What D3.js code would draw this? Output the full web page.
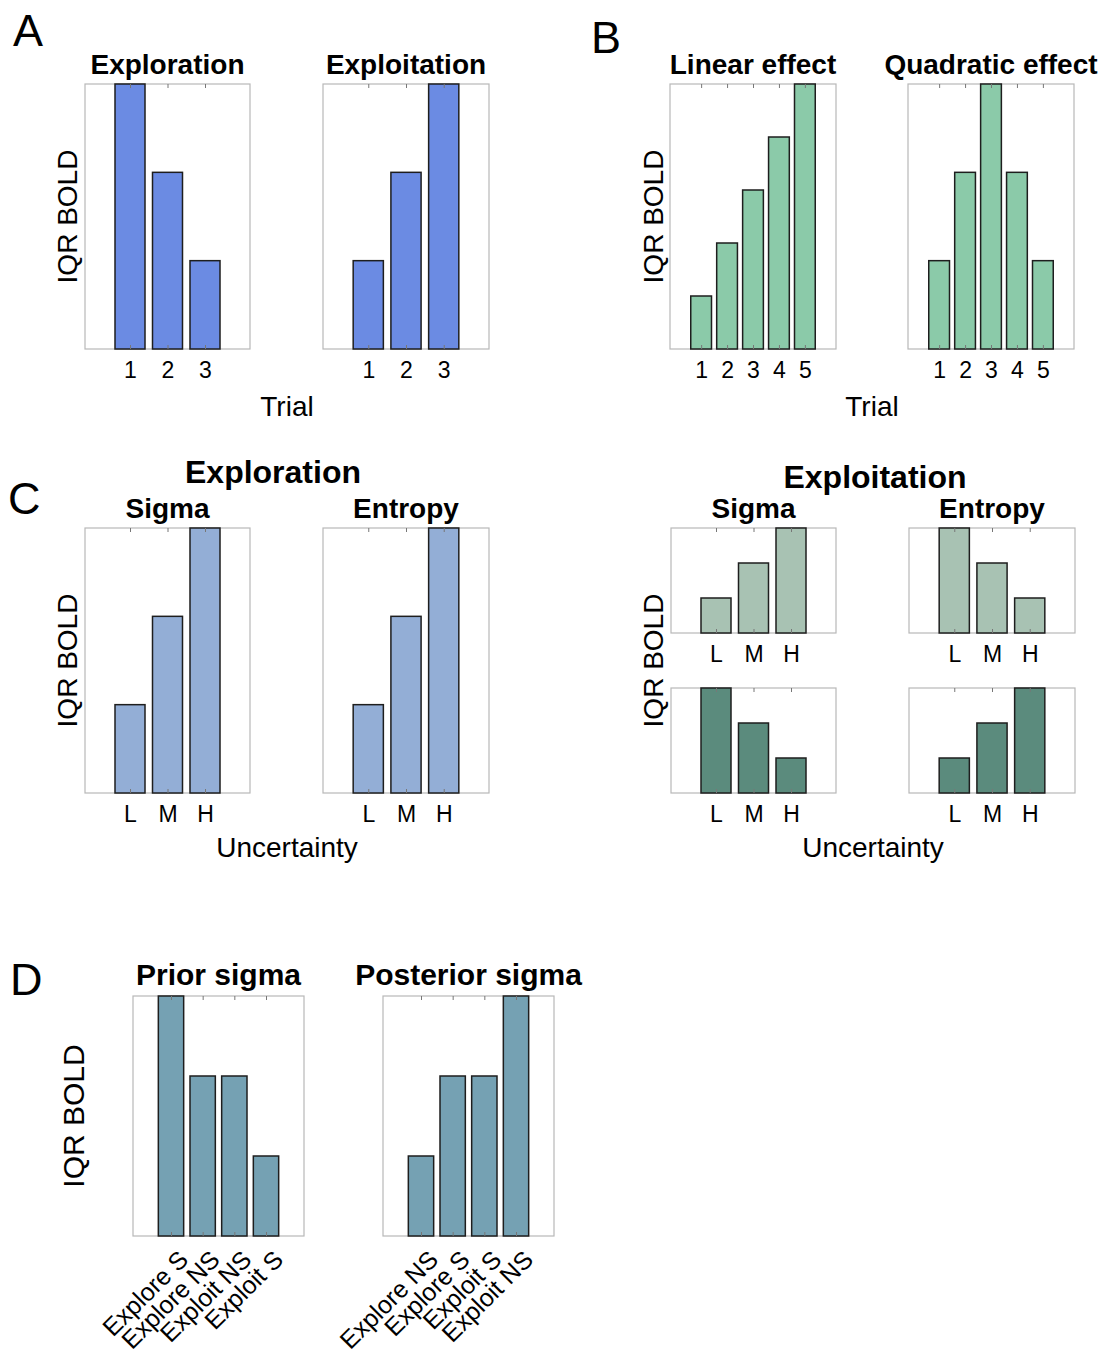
<!DOCTYPE html>
<html>
<head>
<meta charset="utf-8">
<script src="https://cdn.jsdelivr.net/npm/d3@7"></script>
<style>
  body { margin: 0; background: #fff; }
  svg  { display: block; font-family: 'Liberation Sans', Arial, Helvetica, sans-serif; }
</style>
</head>
<body>
<div id="fig"></div>
<script>
/* ── Data ─────────────────────────────────────────────────────────── */
const trialA            = ['1', '2', '3'];
const exploreTrial      = [3, 2, 1];
const exploitTrial      = [1, 2, 3];

const trialB            = ['1', '2', '3', '4', '5'];
const linearEffect      = [1, 2, 3, 4, 5];
const quadraticEffect   = [1, 2, 3, 2, 1];

const uncertainty       = ['L', 'M', 'H'];
const exploreSigma      = [1, 2, 3];
const exploreEntropy    = [1, 2, 3];
const exploitSigmaTop   = [1, 2, 3];
const exploitEntropyTop = [3, 2, 1];
const exploitSigmaBot   = [3, 2, 1];
const exploitEntropyBot = [1, 2, 3];

const priorCats         = ['Explore S', 'Explore NS', 'Exploit NS', 'Exploit S'];
const priorSigma        = [3, 2, 2, 1];
const posteriorCats     = ['Explore NS', 'Explore S', 'Exploit S', 'Exploit NS'];
const posteriorSigma    = [1, 2, 2, 3];

/* ── Colours ──────────────────────────────────────────────────────── */
const COL = {
  blue:   '#6b8be3',
  mint:   '#8bcaa9',
  steel:  '#93aed6',
  sage:   '#a8c2b3',
  teal:   '#5b8b7d',
  slate:  '#75a1b3'
};

const W = 1104, H = 1351;
const TICK_FS  = 23;
const TITLE_FS = 28;
const AXIS_FS  = 28;

const svg = d3.select('#fig').append('svg')
  .attr('width', W).attr('height', H)
  .attr('viewBox', `0 0 ${W} ${H}`);

/* ── Helpers ──────────────────────────────────────────────────────── */

/**
 * Draw one MATLAB-style bar axis: grey box, bars, inner ticks, tick labels.
 * opts.rotate tilts the category labels by 45°, opts.fs sets their size.
 */
function drawBars(b, cats, values, color, opts = {}) {
  const n = cats.length;
  const x = d3.scaleLinear().domain([-0.2, n + 1.2]).range([b.left, b.right]);
  const y = d3.scaleLinear().domain([0, d3.max(values)]).range([b.bottom, b.top]);
  const bw = 0.8 * (x(1) - x(0));
  const idx = d3.range(1, n + 1);

  const g = svg.append('g');

  g.append('rect')
    .attr('x', b.left).attr('y', b.top)
    .attr('width', b.right - b.left).attr('height', b.bottom - b.top)
    .attr('fill', 'none').attr('stroke', '#b8b8b8').attr('stroke-width', 1.2);

  g.selectAll('rect.bar').data(values).join('rect')
    .attr('class', 'bar')
    .attr('x', (d, i) => x(i + 1) - bw / 2)
    .attr('y', d => y(d))
    .attr('width', bw)
    .attr('height', d => y(0) - y(d))
    .attr('fill', color)
    .attr('stroke', '#1e1e1e')
    .attr('stroke-width', 1.5);

  // inner ticks, top and bottom
  g.append('g').attr('transform', `translate(0,${b.top})`)
    .call(d3.axisBottom(x).tickValues(idx).tickSize(4).tickFormat(''))
    .call(_styleTicks);
  g.append('g').attr('transform', `translate(0,${b.bottom})`)
    .call(d3.axisTop(x).tickValues(idx).tickSize(4).tickFormat(''))
    .call(_styleTicks);

  // tick labels
  const lab = g.append('g').attr('transform', `translate(0,${b.bottom})`)
    .call(d3.axisBottom(x).tickValues(idx).tickSize(0).tickPadding(13)
      .tickFormat(i => cats[i - 1]));
  lab.select('.domain').remove();
  lab.selectAll('text')
    .attr('fill', '#000')
    .attr('font-size', (opts.fs || TICK_FS) + 'px')
    .attr('font-family', null);

  if (opts.rotate) {
    lab.selectAll('text')
      .attr('x', 0).attr('y', 0).attr('dy', '0.35em')
      .attr('text-anchor', 'end')
      .attr('transform', 'translate(12,19) rotate(-45)');
  }
}

function _styleTicks(sel) {
  sel.select('.domain').remove();
  sel.selectAll('line').attr('stroke', '#777').attr('stroke-width', 1);
}

function label(txt, x, y, size, opts = {}) {
  const t = svg.append('text')
    .attr('x', x).attr('y', y)
    .attr('font-size', size + 'px')
    .attr('text-anchor', opts.anchor || 'middle')
    .attr('font-weight', opts.bold ? 'bold' : 'normal')
    .attr('fill', '#000')
    .text(txt);
  if (opts.rotate) {
    t.attr('x', 0).attr('y', 0).attr('transform', `translate(${x},${y}) rotate(-90)`);
  }
  return t;
}

const centre = b => (b.left + b.right) / 2;
const mid    = b => (b.top + b.bottom) / 2;

/* ── Layout ───────────────────────────────────────────────────────── */
const boxA1  = { left: 85,  right: 250,  top: 84,  bottom: 349 };
const boxA2  = { left: 323, right: 489,  top: 84,  bottom: 349 };
const boxB1  = { left: 670, right: 836,  top: 84,  bottom: 349 };
const boxB2  = { left: 908, right: 1074, top: 84,  bottom: 349 };
const boxC1  = { left: 85,  right: 250,  top: 528, bottom: 793 };
const boxC2  = { left: 323, right: 489,  top: 528, bottom: 793 };
const boxC3  = { left: 671, right: 836,  top: 528, bottom: 633 };
const boxC4  = { left: 909, right: 1075, top: 528, bottom: 633 };
const boxC5  = { left: 671, right: 836,  top: 688, bottom: 793 };
const boxC6  = { left: 909, right: 1075, top: 688, bottom: 793 };
const boxD1  = { left: 133, right: 304,  top: 996, bottom: 1236 };
const boxD2  = { left: 383, right: 554,  top: 996, bottom: 1236 };

/* ── Panel A ──────────────────────────────────────────────────────── */
drawBars(boxA1, trialA, exploreTrial, COL.blue);
drawBars(boxA2, trialA, exploitTrial, COL.blue);
label('A', 13, 46, 45, { anchor: 'start' });
label('Exploration', centre(boxA1), 74, TITLE_FS, { bold: true });
label('Exploitation', centre(boxA2), 74, TITLE_FS, { bold: true });
label('IQR BOLD', 77, mid(boxA1), AXIS_FS, { rotate: true });
label('Trial', (boxA1.left + boxA2.right) / 2, 416, AXIS_FS);

/* ── Panel B ──────────────────────────────────────────────────────── */
drawBars(boxB1, trialB, linearEffect, COL.mint);
drawBars(boxB2, trialB, quadraticEffect, COL.mint);
label('B', 591, 53, 45, { anchor: 'start' });
label('Linear effect', centre(boxB1), 74, TITLE_FS, { bold: true });
label('Quadratic effect', centre(boxB2), 74, TITLE_FS, { bold: true });
label('IQR BOLD', 663, mid(boxB1), AXIS_FS, { rotate: true });
label('Trial', (boxB1.left + boxB2.right) / 2, 416, AXIS_FS);

/* ── Panel C ──────────────────────────────────────────────────────── */
drawBars(boxC1, uncertainty, exploreSigma, COL.steel);
drawBars(boxC2, uncertainty, exploreEntropy, COL.steel);
drawBars(boxC3, uncertainty, exploitSigmaTop, COL.sage);
drawBars(boxC4, uncertainty, exploitEntropyTop, COL.sage);
drawBars(boxC5, uncertainty, exploitSigmaBot, COL.teal);
drawBars(boxC6, uncertainty, exploitEntropyBot, COL.teal);
label('C', 8, 514, 45, { anchor: 'start' });
label('Exploration', 273, 483, 32, { bold: true });
label('Exploitation', 875, 488, 32, { bold: true });
label('Sigma', centre(boxC1), 518, TITLE_FS, { bold: true });
label('Entropy', centre(boxC2), 518, TITLE_FS, { bold: true });
label('Sigma', centre(boxC3), 518, TITLE_FS, { bold: true });
label('Entropy', centre(boxC4), 518, TITLE_FS, { bold: true });
label('IQR BOLD', 77, mid(boxC1), AXIS_FS, { rotate: true });
label('IQR BOLD', 663, (boxC3.top + boxC5.bottom) / 2, AXIS_FS, { rotate: true });
label('Uncertainty', (boxC1.left + boxC2.right) / 2, 857, AXIS_FS);
label('Uncertainty', (boxC3.left + boxC4.right) / 2, 857, AXIS_FS);

/* ── Panel D ──────────────────────────────────────────────────────── */
drawBars(boxD1, priorCats, priorSigma, COL.slate, { rotate: true, fs: 25 });
drawBars(boxD2, posteriorCats, posteriorSigma, COL.slate, { rotate: true, fs: 25 });
label('D', 10, 995, 45, { anchor: 'start' });
label('Prior sigma', centre(boxD1), 985, 30, { bold: true });
label('Posterior sigma', centre(boxD2), 985, 30, { bold: true });
label('IQR BOLD', 84, mid(boxD1), 30, { rotate: true });
</script>
</body>
</html>
